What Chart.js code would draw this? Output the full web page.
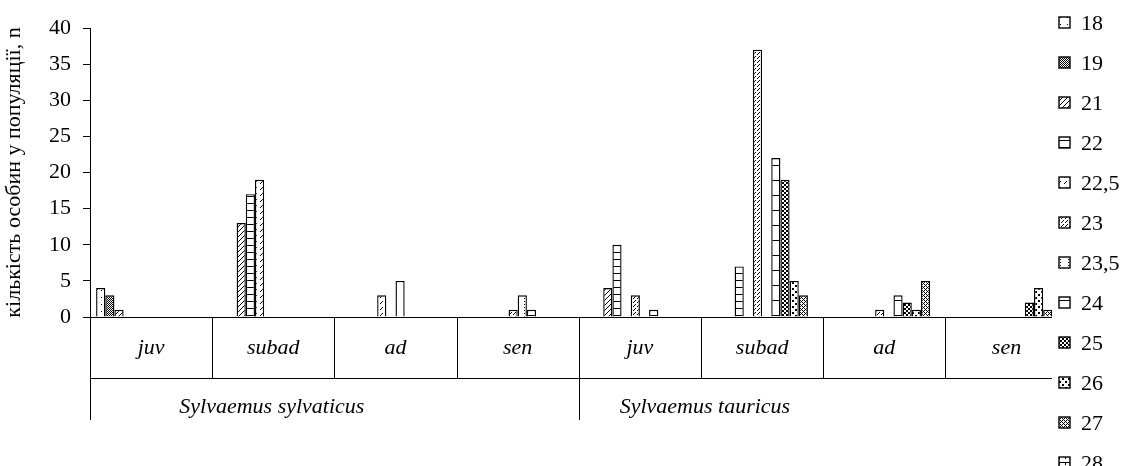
<!DOCTYPE html>
<html>
<head>
<meta charset="utf-8">
<script src="https://cdn.jsdelivr.net/npm/chart.js@4.4.1/dist/chart.umd.min.js"></script>
<style>
html,body{margin:0;padding:0;background:#fff;}
#wrap{width:1131px;height:466px;}
</style>
</head>
<body>
<div id="wrap"><canvas id="c" width="1131" height="466"></canvas></div>
<script>
// ---- data ----
const categories = ['juv','subad','ad','sen','juv','subad','ad','sen'];
const speciesGroups = ['Sylvaemus sylvaticus','Sylvaemus tauricus'];
const seriesNames = ['18','19','21','22','22,5','23','23,5','24','25','26','27','28'];
const s18   = [4, null, null, null, null, null, null, null];
const s19   = [3, null, null, null, null, null, null, null];
const s21   = [1, 13, null, null, 4, null, null, null];
const s22   = [null, 17, null, null, 10, 7, null, null];
const s22_5 = [null, 19, 3, null, null, null, null, null];
const s23   = [null, null, null, 1, 3, 37, 1, null];
const s23_5 = [null, null, 5, 3, null, null, null, null];
const s24   = [null, null, null, 1, 1, 22, 3, null];
const s25   = [null, null, null, null, null, 19, 2, 2];
const s26   = [null, null, null, null, null, 5, 1, 4];
const s27   = [null, null, null, null, null, 3, 5, 1];
const s28   = [null, null, null, null, null, null, null, null];
const yTicks = [0,5,10,15,20,25,30,35,40];
const yTitle = 'кількість особин у популяції, n';

const seriesValues = [s18,s19,s21,s22,s22_5,s23,s23_5,s24,s25,s26,s27,s28];

// ---- patterns ----
function makePattern(w,h,pix){
  const cv=document.createElement('canvas');cv.width=w;cv.height=h;
  const g=cv.getContext('2d');g.fillStyle='#fff';g.fillRect(0,0,w,h);
  g.fillStyle='#000';
  pix.forEach(p=>g.fillRect(p[0],p[1],p[2]||1,p[3]||1));
  return document.getElementById('c').getContext('2d').createPattern(cv,'repeat');
}
const patterns = [
  makePattern(7,7,[[3,3]]),                                   // 18
  makePattern(2,2,[[0,0],[1,1]]),                             // 19
  makePattern(5,5,[[4,0],[3,1],[2,2],[1,3],[0,4]]),           // 21
  makePattern(4,7,[[0,0,4,1]]),                               // 22
  makePattern(6,6,[[4,1],[3,2],[2,3]]),                       // 22,5
  makePattern(4,4,[[3,0],[2,1],[1,2]]),                       // 23
  makePattern(8,3,[[4,1]]),                                   // 23,5
  makePattern(4,15,[[0,0,4,1]]),                              // 24
  makePattern(4,4,[[0,0,2,2],[2,2,2,2]]),                     // 25
  makePattern(6,6,[[0,0,2,2],[3,3,2,2]]),                     // 26
  makePattern(4,4,[[0,0],[1,1],[2,2],[3,3],[2,0],[0,2]]),     // 27
  makePattern(6,6,[[0,0,6,1],[3,0,1,3]])                      // 28
];

const datasets = seriesNames.map((n,i)=>({
  label:n, data:seriesValues[i], backgroundColor:patterns[i],
  borderColor:'#000', borderWidth:1.4
}));

const SERIF='"Liberation Serif","Times New Roman",serif';
const FS=22;
// horizontal placement of the species labels within their spans (as drawn in the reference)
const speciesLabelFrac=[0.372,0.258];

const decor = {
  id:'decor',
  afterDatasetsDraw(chart){
    const ctx=chart.ctx, x=chart.scales.x, a=chart.chartArea;
    const n=categories.length, cw=(a.right-a.left)/n;
    const base=a.bottom, row1=378, row2=420;
    ctx.save();
    ctx.strokeStyle='#000';ctx.lineWidth=1;
    ctx.beginPath();
    ctx.moveTo(a.left,base+0.5);ctx.lineTo(a.right,base+0.5);
    ctx.moveTo(a.left,row1+0.5);ctx.lineTo(a.right,row1+0.5);
    for(let i=0;i<=n;i++){
      const bx=Math.round(x.getPixelForValue(i)-cw/2)+0.5;
      const bottom=(i%4===0)?row2:row1;
      ctx.moveTo(bx,base);ctx.lineTo(bx,bottom);
    }
    ctx.stroke();
    ctx.fillStyle='#000';
    ctx.font='italic '+FS+'px '+SERIF;
    ctx.textAlign='center';ctx.textBaseline='middle';
    categories.forEach((c,i)=>ctx.fillText(c,x.getPixelForValue(i),348));
    speciesGroups.forEach((s,g)=>{
      const l=x.getPixelForValue(g*4)-cw/2, r=x.getPixelForValue(g*4+3)+cw/2;
      ctx.fillText(s,l+(r-l)*speciesLabelFrac[g],407);
    });
    ctx.restore();
  },
  afterDraw(chart){
    const ctx=chart.ctx;
    ctx.save();
    ctx.fillStyle='#fff';ctx.fillRect(1052,0,79,466);
    ctx.font=FS+'px '+SERIF;ctx.textBaseline='middle';ctx.textAlign='left';
    seriesNames.forEach((n,i)=>{
      const cy=23+i*40;
      ctx.fillStyle=patterns[i];ctx.fillRect(1059,cy-6,11,11);
      ctx.strokeStyle='#000';ctx.lineWidth=1.4;ctx.strokeRect(1059,cy-6,11,11);
      ctx.fillStyle='#000';ctx.fillText(n,1081,cy+1);
    });
    ctx.restore();
  }
};

new Chart(document.getElementById('c'),{
  type:'bar',
  data:{labels:categories,datasets},
  plugins:[decor],
  options:{
    responsive:false,animation:false,devicePixelRatio:1,
    layout:{padding:{left:0,top:28,right:63.4,bottom:149}},
    plugins:{legend:{display:false},tooltip:{enabled:false}},
    datasets:{bar:{categoryPercentage:0.9,barPercentage:1.0,grouped:true}},
    scales:{
      x:{display:false},
      y:{
        min:0,max:40,
        afterBuildTicks(s){s.ticks=yTicks.map(v=>({value:v}));},
        afterFit(s){s.width=90;},
        ticks:{color:'#000',padding:12,font:{family:SERIF,size:FS}},
        grid:{drawOnChartArea:false,tickLength:7,color:'#000',tickColor:'#000'},
        border:{color:'#000',width:1},
        title:{display:true,text:yTitle,color:'#000',font:{family:SERIF,size:FS,lineHeight:1.1},padding:{top:2,bottom:0}}
      }
    }
  }
});
</script>
</body>
</html>
